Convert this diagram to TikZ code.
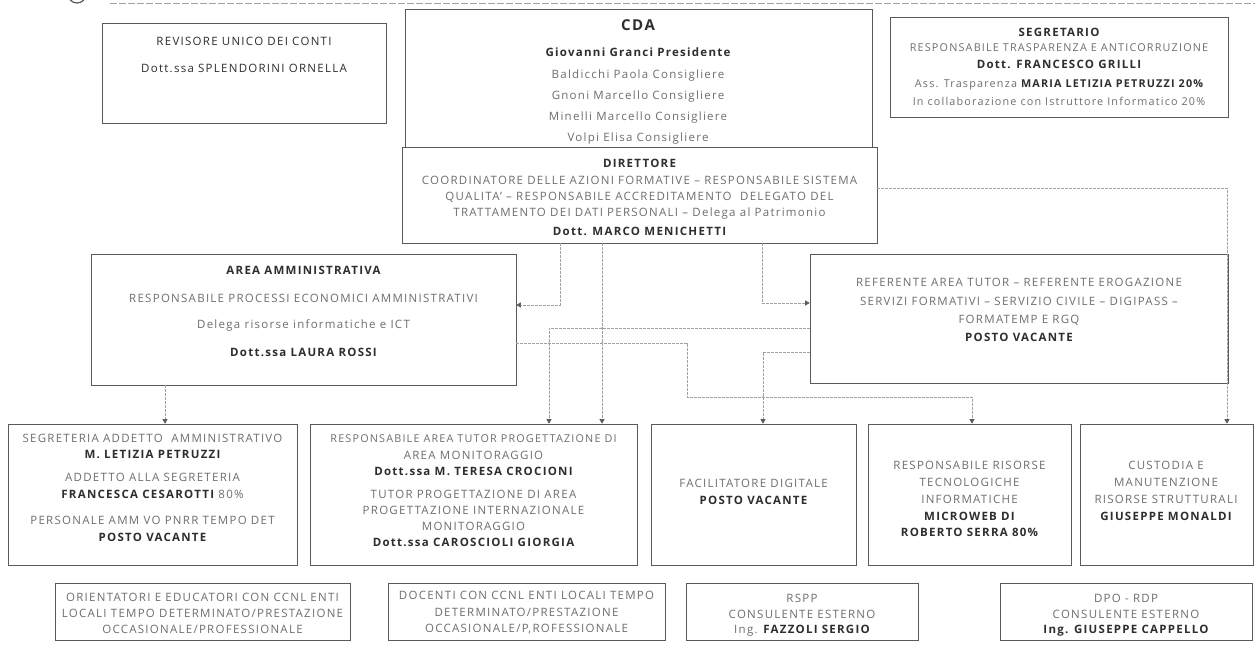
\documentclass[tikz,border=0pt]{standalone}
\usepackage{fontspec}
\setmainfont{Open Sans}[LetterSpace=11]
\usetikzlibrary{arrows.meta,fit}
\definecolor{txt}{HTML}{6E6E6E}
\definecolor{dk}{HTML}{2E2E2E}
\definecolor{bd}{HTML}{5A5A5A}
\definecolor{ln}{HTML}{A0A0A0}
\begin{document}
\begin{tikzpicture}[x=1pt,y=-1pt,
  box/.style={draw=bd, line width=0.7pt, inner sep=0pt},
  t/.style={text=txt, inner sep=0pt, font=\fontsize{11.5}{13}\selectfont},
  b/.style={t, text=dk, font=\fontsize{11.5}{13}\selectfont\bfseries},
  sm/.style={font=\fontsize{10.8}{13}\selectfont},
  conn/.style={draw=ln, line width=0.6pt, dash pattern=on 3pt off 1pt},
  arr/.style={conn, -{Triangle[length=4.5pt,width=5pt,color=bd]}},
  jn/.style={fill=ln}
]
\useasboundingbox (0,0) rectangle (1255,646);
\fill[white] (0,0) rectangle (1255,646);
% header
\draw[bd, line width=1.2pt] (77,-6) circle (9);
\draw[ln, line width=0.8pt, dash pattern=on 7pt off 2pt] (110,3) -- (1255,3);

% boxes
\node[box, fit={(102,23) (386,123)}] (rev) {};
\node[box, fit={(405,9) (872,147)}] (cda) {};
\node[box, fit={(402,147) (877,243)}] (dir) {};
\node[box, fit={(890,17) (1228,117)}] (seg) {};
\node[box, fit={(91,254) (516,385)}] (adm) {};
\node[box, fit={(810,254) (1228,383)}] (ref) {};
\node[box, fit={(8,424) (297,565)}] (b1) {};
\node[box, fit={(310,424) (637,565)}] (b2) {};
\node[box, fit={(651,424) (856,565)}] (b3) {};
\node[box, fit={(868,424) (1071,565)}] (b4) {};
\node[box, fit={(1080,424) (1253,565)}] (b5) {};
\node[box, fit={(55,583) (350,640)}] (c1) {};
\node[box, fit={(388,583) (665,640)}] (c2) {};
\node[box, fit={(686,583) (918,640)}] (c3) {};
\node[box, fit={(1000,583) (1252,640)}] (c4) {};

% texts
\node[t,text=dk] at (244,41) {REVISORE UNICO DEI CONTI};
\node[t,text=dk] at (244,68) {Dott.ssa SPLENDORINI ORNELLA};

\node[b, font=\fontsize{15}{17}\selectfont\bfseries] at (638,25) {CDA};
\node[b] at (638,52) {Giovanni Granci Presidente};
\node[t] at (638,76) {Baldicchi Paola Consigliere};
\node[t] at (638,97) {Gnoni Marcello Consigliere};
\node[t] at (638,118) {Minelli Marcello Consigliere};
\node[t] at (638,139) {Volpi Elisa Consigliere};

\node[b] at (639.5,163) {DIRETTORE};
\node[t] at (639.5,180) {COORDINATORE DELLE AZIONI FORMATIVE – RESPONSABILE SISTEMA};
\node[t] at (639.5,197) {QUALITA' – RESPONSABILE ACCREDITAMENTO \ DELEGATO DEL};
\node[t] at (639.5,214) {TRATTAMENTO DEI DATI PERSONALI – Delega al Patrimonio};
\node[b] at (639.5,231) {Dott. MARCO MENICHETTI};

\node[b] at (1059,32) {SEGRETARIO};
\node[t,sm] at (1059,48) {RESPONSABILE TRASPARENZA E ANTICORRUZIONE};
\node[b] at (1059,64) {Dott. FRANCESCO GRILLI};
\node[t,sm] at (1059,85) {Ass. Trasparenza \textcolor{dk}{\bfseries MARIA LETIZIA PETRUZZI 20\%}};
\node[t,sm] at (1059,101) {In collaborazione con Istruttore Informatico 20\%};

\node[b] at (303.5,270) {AREA AMMINISTRATIVA};
\node[t] at (303.5,298) {RESPONSABILE PROCESSI ECONOMICI AMMINISTRATIVI};
\node[t] at (303.5,325) {Delega risorse informatiche e ICT};
\node[b] at (303.5,352) {Dott.ssa LAURA ROSSI};

\node[t] at (1019,282) {REFERENTE AREA TUTOR – REFERENTE EROGAZIONE};
\node[t] at (1019,301) {SERVIZI FORMATIVI – SERVIZIO CIVILE – DIGIPASS –};
\node[t] at (1019,320) {FORMATEMP E RGQ};
\node[b] at (1019,337) {POSTO VACANTE};

\node[t] at (152.5,438) {SEGRETERIA ADDETTO \ AMMINISTRATIVO};
\node[b] at (152.5,454) {M. LETIZIA PETRUZZI};
\node[t] at (152.5,477) {ADDETTO ALLA SEGRETERIA};
\node[t] at (152.5,494) {\textcolor{dk}{\bfseries FRANCESCA CESAROTTI} 80\%};
\node[t] at (152.5,520) {PERSONALE AMM VO PNRR TEMPO DET};
\node[b] at (152.5,537) {POSTO VACANTE};

\node[t,sm] at (473.5,439) {RESPONSABILE AREA TUTOR PROGETTAZIONE DI};
\node[t] at (473.5,455) {AREA MONITORAGGIO};
\node[b] at (473.5,471) {Dott.ssa M. TERESA CROCIONI};
\node[t] at (473.5,494) {TUTOR PROGETTAZIONE DI AREA};
\node[t] at (473.5,510) {PROGETTAZIONE INTERNAZIONALE};
\node[t] at (473.5,526) {MONITORAGGIO};
\node[b] at (473.5,542) {Dott.ssa CAROSCIOLI GIORGIA};

\node[t] at (753.5,483) {FACILITATORE DIGITALE};
\node[b] at (753.5,500) {POSTO VACANTE};

\node[t] at (969.5,465) {RESPONSABILE RISORSE};
\node[t] at (969.5,482) {TECNOLOGICHE};
\node[t] at (969.5,499) {INFORMATICHE};
\node[b] at (969.5,516) {MICROWEB DI};
\node[b] at (969.5,532) {ROBERTO SERRA 80\%};

\node[t] at (1166,465) {CUSTODIA E};
\node[t] at (1166,482) {MANUTENZIONE};
\node[t] at (1166,499) {RISORSE STRUTTURALI};
\node[b] at (1166,516) {GIUSEPPE MONALDI};

\node[t] at (202.5,597) {ORIENTATORI E EDUCATORI CON CCNL ENTI};
\node[t] at (202.5,613) {LOCALI TEMPO DETERMINATO/PRESTAZIONE};
\node[t] at (202.5,629) {OCCASIONALE/PROFESSIONALE};

\node[t] at (526.5,595) {DOCENTI CON CCNL ENTI LOCALI TEMPO};
\node[t] at (526.5,612) {DETERMINATO/PRESTAZIONE};
\node[t] at (526.5,629) {OCCASIONALE/P,ROFESSIONALE};

\node[t] at (802,598) {RSPP};
\node[t] at (802,614) {CONSULENTE ESTERNO};
\node[t] at (802,631) {Ing. \textcolor{dk}{\bfseries FAZZOLI SERGIO}};

\node[t] at (1126,598) {DPO - RDP};
\node[t] at (1126,614) {CONSULENTE ESTERNO};
\node[b] at (1126,631) {Ing. GIUSEPPE CAPPELLO};

% connector turning points
\coordinate (k1) at (560,305);
\coordinate (k2) at (602,0);
\coordinate (k3) at (762,303);
\coordinate (k4) at (549,328);
\coordinate (k5) at (687,343);
\coordinate (k6) at (972,397);
\coordinate (k7) at (763,352);
\coordinate (k8) at (1227,188);
\coordinate (k9) at (165,0);

\draw[arr] (dir.south -| k1) |- (adm.east |- k1);
\draw[arr] (dir.south -| k2) -- (b2.north -| k2);
\draw[arr] (dir.south -| k3) |- (ref.west |- k3);
\draw[arr] (ref.west |- k4) -| (b2.north -| k4);
\draw[arr] (adm.east |- k5) -- (k5) |- (k6) -- (b4.north -| k6);
\draw[arr] (ref.west |- k7) -| (b3.north -| k7);
\draw[arr] (dir.east |- k8) -| (b5.north -| k8);
\draw[arr] (adm.south -| k9) -- (b1.north -| k9);

\fill[jn] (602,328) circle (1pt);
\fill[jn] (602,343) circle (1pt);
\fill[jn] (549,343) circle (1pt);
\fill[jn] (763,397) circle (1pt);
\end{tikzpicture}
\end{document}
